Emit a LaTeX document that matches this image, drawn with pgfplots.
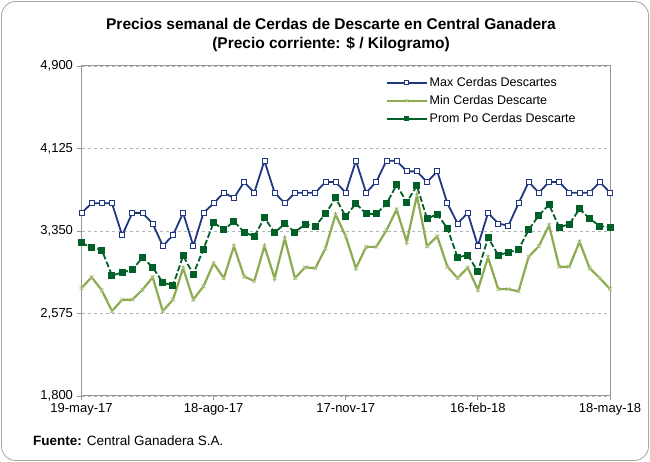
\documentclass[border=0pt]{standalone}
\usepackage{pgfplots}
\pgfplotsset{compat=1.18}
\usepackage{fontspec}
\setmainfont{Liberation Sans}
\definecolor{maxc}{RGB}{31,56,128}
\definecolor{minc}{RGB}{140,170,80}
\definecolor{promc}{RGB}{0,96,40}
\definecolor{gridc}{RGB}{180,180,180}
\definecolor{axc}{RGB}{150,150,150}
\begin{document}
\begin{tikzpicture}[x=1pt,y=1pt]
\path[use as bounding box] (0,0) rectangle (650,462);
\draw[rounded corners=14pt, color=gray!70, line width=0.8pt] (1.5,1.5) rectangle (648.5,460.5);
\node[font=\bfseries\fontsize{15.5}{19.5}\selectfont, align=center] at (331,427) {Precios semanal de Cerdas de Descarte en Central Ganadera\\(Precio corriente: \$ / Kilogramo)};
\node[anchor=west, font=\fontsize{13.5}{15}\selectfont, inner sep=0pt] at (33,21) {\textbf{Fuente:} Central Ganadera S.A.};
\begin{axis}[
  at={(81.5pt,66pt)}, anchor=south west,
  width=528.5pt, height=330pt, scale only axis,
  xmin=0, xmax=52, ymin=1800, ymax=4900,
  xtick={0,13,26,39,52},
  xticklabels={19-may-17,18-ago-17,17-nov-17,16-feb-18,18-may-18},
  ytick={1800,2575,3350,4125,4900},
  yticklabel style={xshift=-1pt, /pgf/number format/.cd, fixed, 1000 sep={,}, assume math mode=true},
  ticklabel style={font=\fontsize{13}{15}\selectfont},
  tick align=outside, tick pos=left,
  major tick length=4pt,
  tick style={color=axc, line width=0.8pt},
  axis line style={color=axc, line width=1pt},
  ymajorgrids, grid style={dashed, color=gridc, line width=0.8pt},
  xticklabel style={yshift=0pt},
  legend style={at={(0.573,0.975)}, anchor=north west, draw=none, fill=none,
    font=\fontsize{12.5}{14}\selectfont, row sep=3.5pt, inner sep=1pt},
  legend cell align=left,
]
\addplot[color=maxc, line width=1.8pt, mark=square*, mark size=2.5pt,
  mark options={fill=white, draw=maxc, line width=0.8pt, solid},
  legend image code/.code={\draw[mark repeat=2,mark phase=2,mark size=2pt] plot coordinates {(0pt,0pt)(20pt,0pt)(40pt,0pt)};}] coordinates {
(0,3520)(1,3610)(2,3610)(3,3610)(4,3310)(5,3520)(6,3520)(7,3420)(8,3210)(9,3310)
(10,3520)(11,3210)(12,3520)(13,3610)(14,3710)(15,3660)(16,3810)(17,3710)(18,4010)(19,3710)
(20,3610)(21,3710)(22,3710)(23,3710)(24,3810)(25,3810)(26,3710)(27,4010)(28,3710)(29,3810)
(30,4010)(31,4010)(32,3910)(33,3910)(34,3810)(35,3910)(36,3610)(37,3420)(38,3520)(39,3210)
(40,3520)(41,3420)(42,3400)(43,3610)(44,3810)(45,3710)(46,3810)(47,3810)(48,3710)(49,3710)
(50,3710)(51,3810)(52,3710)};
\addlegendentry{Max Cerdas Descartes}
\addplot[color=minc, line width=2.2pt, mark=x, mark size=2.8pt,
  mark options={draw=minc!70, line width=0.7pt, solid},
  legend image code/.code={\draw[mark repeat=2,mark phase=2,mark size=2.4pt] plot coordinates {(0pt,0pt)(20pt,0pt)(40pt,0pt)};}] coordinates {
(0,2814)(1,2916)(2,2792)(3,2597)(4,2705)(5,2705)(6,2798)(7,2916)(8,2597)(9,2705)
(10,3000)(11,2705)(12,2830)(13,3046)(14,2907)(15,3207)(16,2922)(17,2880)(18,3207)(19,2907)
(20,3279)(21,2907)(22,3009)(23,3000)(24,3186)(25,3505)(26,3300)(27,3000)(28,3201)(29,3201)
(30,3356)(31,3551)(32,3248)(33,3682)(34,3207)(35,3300)(36,3015)(37,2907)(38,3006)(39,2798)
(40,3102)(41,2804)(42,2804)(43,2783)(44,3108)(45,3207)(46,3403)(47,3015)(48,3015)(49,3248)
(50,3000)(51,2907)(52,2804)};
\addlegendentry{Min Cerdas Descarte}
\addplot[color=promc, line width=1.8pt, dash pattern=on 6pt off 2.5pt, mark=square*, mark size=2.6pt,
  mark options={fill=promc, draw=promc, solid},
  legend image code/.code={\draw[solid,mark repeat=2,mark phase=2,mark size=1.6pt] plot coordinates {(0pt,0pt)(20pt,0pt)(40pt,0pt)};}] coordinates {
(0,3238)(1,3195)(2,3170)(3,2932)(4,2960)(5,2984)(6,3102)(7,3009)(8,2866)(9,2838)
(10,3117)(11,2944)(12,3180)(13,3430)(14,3362)(15,3440)(16,3338)(17,3300)(18,3474)(19,3335)
(20,3418)(21,3340)(22,3412)(23,3396)(24,3511)(25,3660)(26,3486)(27,3610)(28,3511)(29,3511)
(30,3604)(31,3784)(32,3620)(33,3775)(34,3465)(35,3508)(36,3375)(37,3102)(38,3124)(39,2969)
(40,3288)(41,3124)(42,3149)(43,3176)(44,3362)(45,3496)(46,3598)(47,3387)(48,3412)(49,3558)
(50,3465)(51,3396)(52,3387)};
\addlegendentry{Prom Po Cerdas Descarte}
\end{axis}
\end{tikzpicture}
\end{document}
